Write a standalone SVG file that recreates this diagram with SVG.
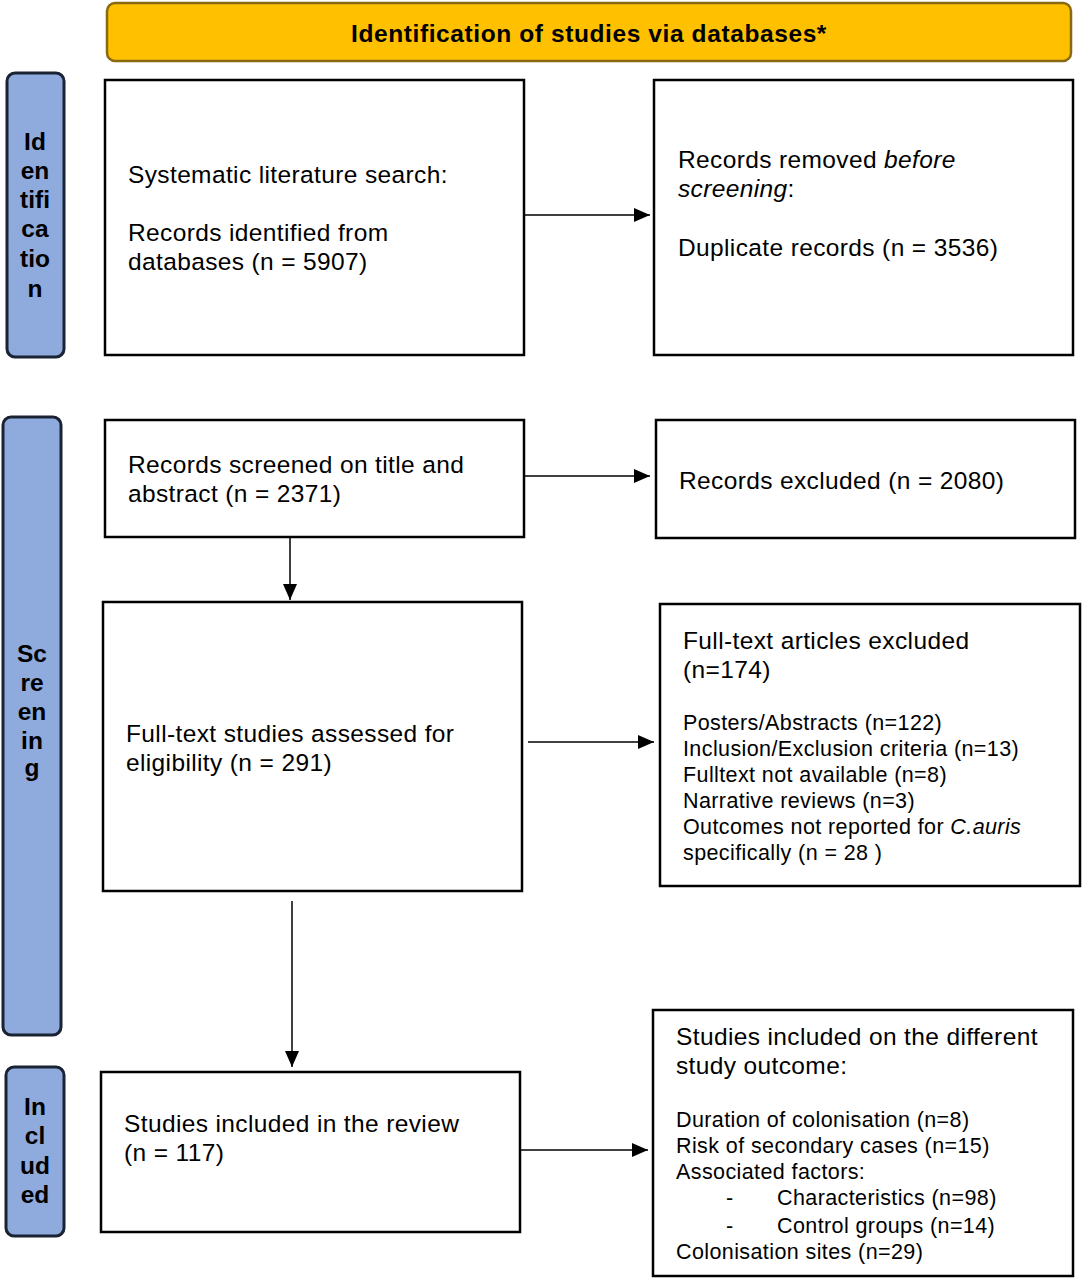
<svg xmlns="http://www.w3.org/2000/svg" width="1083" height="1280" viewBox="0 0 1083 1280">
<defs>
<style>
.box{fill:#fff;stroke:#000;stroke-width:2.5}
.side{fill:#8FAADC;stroke:#1a2333;stroke-width:3}
.t{font-family:"Liberation Sans",Arial,sans-serif;font-size:24.5px;letter-spacing:0.37px;fill:#000}
.s{font-family:"Liberation Sans",Arial,sans-serif;font-size:21.5px;letter-spacing:0.4px;fill:#000}
.b{font-family:"Liberation Sans",Arial,sans-serif;font-size:24.5px;font-weight:bold;fill:#000;text-anchor:middle}
.ln{stroke:#000;stroke-width:1.5;fill:none}
</style>
<marker id="ah" viewBox="0 0 16 14" refX="16" refY="7" markerWidth="16" markerHeight="14" markerUnits="userSpaceOnUse" orient="auto">
<path d="M0,0 L16,7 L0,14 Z" fill="#000"/>
</marker>
</defs>
<rect width="1083" height="1280" fill="#fff"/>

<g id="banner">
<rect x="107" y="3" width="964" height="58" rx="8" fill="#FFC000" stroke="#8a6a10" stroke-width="2.5"/>
<text class="b" x="589" y="42" font-size="23.5" letter-spacing="0.6">Identification of studies via databases*</text>
</g>

<g id="side-identification">
<rect class="side" x="7" y="73" width="57" height="284" rx="8"/>
<text class="b" x="35" y="150">Id</text>
<text class="b" x="35" y="179">en</text>
<text class="b" x="35" y="208">tifi</text>
<text class="b" x="35" y="237">ca</text>
<text class="b" x="35" y="267">tio</text>
<text class="b" x="35" y="297">n</text>
</g>

<g id="side-screening">
<rect class="side" x="3" y="417" width="58" height="618" rx="8"/>
<text class="b" x="32" y="662">Sc</text>
<text class="b" x="32" y="691">re</text>
<text class="b" x="32" y="720">en</text>
<text class="b" x="32" y="749">in</text>
<text class="b" x="32" y="776">g</text>
</g>

<g id="side-included">
<rect class="side" x="6" y="1067" width="58" height="169" rx="8"/>
<text class="b" x="35" y="1115">In</text>
<text class="b" x="35" y="1144">cl</text>
<text class="b" x="35" y="1174">ud</text>
<text class="b" x="35" y="1203">ed</text>
</g>

<g id="n-search">
<rect class="box" x="105" y="80" width="419" height="275"/>
<text class="t" x="128" y="183">Systematic literature search:</text>
<text class="t" x="128" y="241">Records identified from</text>
<text class="t" x="128" y="270">databases (n = 5907)</text>
</g>

<g id="n-removed">
<rect class="box" x="654" y="80" width="419" height="275"/>
<text class="t" x="678" y="168">Records removed <tspan font-style="italic">before</tspan></text>
<text class="t" x="678" y="197"><tspan font-style="italic">screening</tspan>:</text>
<text class="t" x="678" y="256">Duplicate records (n = 3536)</text>
</g>

<g id="n-screened">
<rect class="box" x="105" y="420" width="419" height="117"/>
<text class="t" x="128" y="473">Records screened on title and</text>
<text class="t" x="128" y="502">abstract (n = 2371)</text>
</g>

<g id="n-excluded">
<rect class="box" x="656" y="420" width="419" height="118"/>
<text class="t" x="679" y="489">Records excluded (n = 2080)</text>
</g>

<g id="n-fulltext">
<rect class="box" x="103" y="602" width="419" height="289"/>
<text class="t" x="126" y="742">Full-text studies assessed for</text>
<text class="t" x="126" y="771">eligibility (n = 291)</text>
</g>

<g id="n-ft-excluded">
<rect class="box" x="660" y="604" width="420" height="282"/>
<text class="t" x="683" y="649">Full-text articles excluded</text>
<text class="t" x="683" y="678">(n=174)</text>
<text class="s" x="683" y="730">Posters/Abstracts (n=122)</text>
<text class="s" x="683" y="756">Inclusion/Exclusion criteria (n=13)</text>
<text class="s" x="683" y="782">Fulltext not available (n=8)</text>
<text class="s" x="683" y="808">Narrative reviews (n=3)</text>
<text class="s" x="683" y="834">Outcomes not reported for <tspan font-style="italic">C.auris</tspan></text>
<text class="s" x="683" y="860">specifically (n = 28 )</text>
</g>

<g id="n-included">
<rect class="box" x="101" y="1072" width="419" height="160"/>
<text class="t" x="124" y="1132">Studies included in the review</text>
<text class="t" x="124" y="1161">(n = 117)</text>
</g>

<g id="n-outcomes">
<rect class="box" x="653" y="1010" width="420" height="266"/>
<text class="t" x="676" y="1045">Studies included on the different</text>
<text class="t" x="676" y="1074">study outcome:</text>
<text class="s" x="676" y="1127">Duration of colonisation (n=8)</text>
<text class="s" x="676" y="1153">Risk of secondary cases (n=15)</text>
<text class="s" x="676" y="1179">Associated factors:</text>
<text class="s" x="726" y="1205">-</text>
<text class="s" x="777" y="1205">Characteristics (n=98)</text>
<text class="s" x="726" y="1233">-</text>
<text class="s" x="777" y="1233">Control groups (n=14)</text>
<text class="s" x="676" y="1259">Colonisation sites (n=29)</text>
</g>

<g id="connectors">
<line class="ln" x1="524" y1="215" x2="650" y2="215" marker-end="url(#ah)"/>
<line class="ln" x1="524" y1="476" x2="650" y2="476" marker-end="url(#ah)"/>
<line class="ln" x1="290" y1="537" x2="290" y2="600" marker-end="url(#ah)"/>
<line class="ln" x1="528" y1="742" x2="654" y2="742" marker-end="url(#ah)"/>
<line class="ln" x1="292" y1="901" x2="292" y2="1067" marker-end="url(#ah)"/>
<line class="ln" x1="520" y1="1150" x2="648" y2="1150" marker-end="url(#ah)"/>
</g>
</svg>
